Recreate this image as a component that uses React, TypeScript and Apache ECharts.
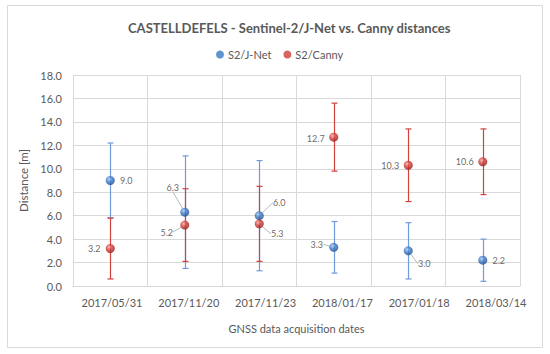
import React, { useEffect, useRef } from "react";
import * as echarts from "echarts";

const categories = ["2017/05/31", "2017/11/20", "2017/11/23", "2018/01/17", "2017/01/18", "2018/03/14"];
const jnetValues = [9.0, 6.3, 6.0, 3.3, 3.0, 2.2];
const jnetErrors = [3.2, 4.8, 4.7, 2.2, 2.4, 1.8];
const cannyValues = [3.2, 5.2, 5.3, 12.7, 10.3, 10.6];
const cannyErrors = [2.6, 3.1, 3.2, 2.9, 3.1, 2.8];
const yTicks = { min: 0, max: 18, interval: 2 };

// label placement (pixel offsets from point centre) and leader-line flags
const jnetLabelOffsets = [[16, 0], [-12, -25], [20, -13], [-17, -3], [16, 13], [16, 0]];
const jnetLeader = [false, true, true, true, true, false];
const cannyLabelOffsets = [[-16, 0], [-18, 7], [18, 10], [-18, 1], [-18, 0], [-18, 0]];
const cannyLeader = [false, true, true, false, false, false];

const FONT = "Lato";
const TXT = "#595959";

function sphere(light: string, base: string, dark: string) {
  return new echarts.graphic.RadialGradient(0.38, 0.35, 0.7, [
    { offset: 0, color: light },
    { offset: 0.45, color: base },
    { offset: 1, color: dark },
  ]);
}

function errorSeries(name: string, values: number[], errs: number[], color: string, z: number) {
  return {
    type: "custom",
    name: name + "_err",
    z,
    silent: true,
    xAxisIndex: 0,
    yAxisIndex: 0,
    data: values.map((v, i) => [i, v - errs[i], v + errs[i]]),
    renderItem: (params: any, api: any) => {
      const lo = api.coord([api.value(0), api.value(1)]);
      const hi = api.coord([api.value(0), api.value(2)]);
      const x = Math.round(lo[0]) + 0.5;
      const w = 3;
      const st = { stroke: color, lineWidth: 1.2 };
      return {
        type: "group",
        children: [
          { type: "line", shape: { x1: x, y1: hi[1], x2: x, y2: lo[1] }, style: st },
          { type: "line", shape: { x1: x - w, y1: hi[1], x2: x + w, y2: hi[1] }, style: st },
          { type: "line", shape: { x1: x - w, y1: lo[1], x2: x + w, y2: lo[1] }, style: st },
        ],
      };
    },
  };
}

function pointSeries(name: string, values: number[], color: any, offsets: number[][], leaders: boolean[], z: number) {
  return {
    type: "scatter",
    name,
    z,
    symbol: "circle",
    symbolSize: 9,
    itemStyle: { color },
    xAxisIndex: 0,
    yAxisIndex: 0,
    data: values.map((v, i) => ({
      value: v,
      labelLine: { show: leaders[i] },
    })),
    label: {
      show: true,
      position: "inside",
      formatter: (p: any) => Number(p.value).toFixed(1),
      fontFamily: FONT,
      fontSize: 9,
      color: "#404040",
    },
    labelLine: {
      show: false,
      lineStyle: { color: "#a6a6a6", width: 0.8 },
    },
    labelLayout: (p: any) => ({ dx: offsets[p.dataIndex][0], dy: offsets[p.dataIndex][1] }),
  };
}

export default function App() {
  const ref = useRef<HTMLDivElement>(null);
  useEffect(() => {
    if (!ref.current) return;
    const chart = echarts.init(ref.current, null, { renderer: "svg" });
    const blue = sphere("#a9cbf2", "#3b78c6", "#1c4c8c");
    const red = sphere("#f6a9a6", "#d23c37", "#8c1a17");
    chart.setOption({
      animation: false,
      backgroundColor: "#ffffff",
      title: {
        text: "CASTELLDEFELS - Sentinel-2/J-Net vs. Canny distances",
        left: 123,
        top: 16,
        textStyle: { fontFamily: FONT, fontSize: 13, fontWeight: "bold", color: TXT },
      },
      legend: {
        left: 211,
        top: 44,
        itemWidth: 8,
        itemHeight: 8,
        itemGap: 12,
        icon: "circle",
        textStyle: { fontFamily: FONT, fontSize: 11, color: TXT, padding: [0, 0, 0, -1] },
        data: [
          { name: "S2/J-Net", itemStyle: { color: "#3b78c6" } },
          { name: "S2/Canny", itemStyle: { color: "#d23c37" } },
        ],
      },
      graphic: [
        {
          type: "rect",
          shape: { x: 7.5, y: 5.5, width: 535, height: 342 },
          style: { fill: "none", stroke: "#d9d9d9", lineWidth: 1 },
          silent: true,
        },
      ],
      grid: [
        { left: 73, right: 30, top: 75, bottom: 68 },
        { left: 73.6, right: 15.6, top: 75, bottom: 68 },
      ],
      xAxis: [
        {
          type: "category",
          gridIndex: 0,
          data: categories,
          boundaryGap: true,
          axisLine: { show: true, lineStyle: { color: "#d9d9d9" } },
          axisTick: { show: false, interval: 0 },
          axisLabel: { show: false, interval: 0 },
          splitLine: { show: true, interval: 0, lineStyle: { color: "#d9d9d9", width: 1 } },
          name: "GNSS data acquisition dates",
          nameLocation: "middle",
          nameGap: 37,
          nameTextStyle: { fontFamily: FONT, fontSize: 11, color: TXT },
        },
        {
          type: "category",
          gridIndex: 1,
          data: categories,
          boundaryGap: true,
          axisLine: { show: false },
          axisTick: { show: false },
          splitLine: { show: false },
          axisLabel: { show: true, margin: 11, fontFamily: FONT, fontSize: 11, color: TXT, interval: 0 },
        },
      ],
      yAxis: [
        {
          type: "value",
          gridIndex: 0,
          min: yTicks.min,
          max: yTicks.max,
          interval: yTicks.interval,
          axisLine: { show: true, lineStyle: { color: "#d9d9d9" } },
          axisTick: { show: false },
          splitLine: { show: true, lineStyle: { color: "#d9d9d9", width: 1 } },
          axisLabel: {
            margin: 11,
            fontFamily: FONT,
            fontSize: 11,
            color: TXT,
            formatter: (v: number) => v.toFixed(1),
          },
          name: "Distance [m]",
          nameLocation: "middle",
          nameRotate: 90,
          nameGap: 39,
          nameTextStyle: { fontFamily: FONT, fontSize: 11.5, color: TXT },
        },
        {
          type: "value",
          gridIndex: 1,
          min: yTicks.min,
          max: yTicks.max,
          show: false,
        },
      ],
      series: [
        errorSeries("S2/J-Net", jnetValues, jnetErrors, "#6f9cd6", 2),
        errorSeries("S2/Canny", cannyValues, cannyErrors, "#d4413c", 3),
        pointSeries("S2/J-Net", jnetValues, blue, jnetLabelOffsets, jnetLeader, 4),
        pointSeries("S2/Canny", cannyValues, red, cannyLabelOffsets, cannyLeader, 5),
      ],
    });
    return () => chart.dispose();
  }, []);
  return <div ref={ref} style={{ position: "fixed", left: 0, top: 0, width: 550, height: 354 }} />;
}
